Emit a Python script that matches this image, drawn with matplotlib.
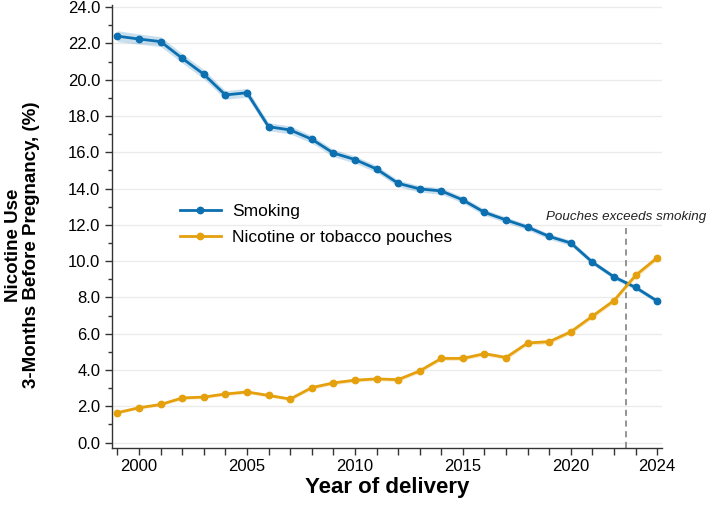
import numpy as np
import matplotlib.pyplot as plt
import matplotlib as mpl

mpl.rcParams['font.family'] = ['Liberation Sans', 'DejaVu Sans']

# dados
years = list(range(1999, 2025))
smoking = [22.40, 22.24, 22.10, 21.18, 20.30, 19.16, 19.28, 17.41, 17.23, 16.72,
           15.96, 15.60, 15.08, 14.29, 13.98, 13.87, 13.37, 12.69, 12.27, 11.87,
           11.36, 11.00, 9.94, 9.13, 8.55, 7.80]
smoking_ci = [0.30, 0.28, 0.27, 0.26, 0.25, 0.24, 0.24, 0.22, 0.22, 0.21,
              0.20, 0.20, 0.19, 0.18, 0.18, 0.18, 0.17, 0.17, 0.16, 0.16,
              0.15, 0.15, 0.14, 0.13, 0.13, 0.12]
pouches = [1.65, 1.92, 2.10, 2.46, 2.51, 2.68, 2.79, 2.60, 2.40, 3.03,
           3.29, 3.44, 3.51, 3.47, 3.95, 4.64, 4.64, 4.90, 4.69, 5.49,
           5.56, 6.11, 6.97, 7.83, 9.22, 10.19]
pouches_ci = [0.08, 0.08, 0.08, 0.09, 0.09, 0.09, 0.09, 0.09, 0.09, 0.10,
              0.10, 0.10, 0.10, 0.10, 0.11, 0.11, 0.11, 0.11, 0.11, 0.12,
              0.12, 0.12, 0.13, 0.13, 0.14, 0.15]
x_labels = {2000: '2000', 2005: '2005', 2010: '2010', 2015: '2015', 2020: '2020', 2024: '2024'}
cross_year = 2022.57

blue = '#0B6FB0'
orange = '#E5A00D'

fig = plt.figure(figsize=(7.09, 5.05), dpi=100)
ax = fig.add_axes([0.158, 0.1135, 0.776, 0.876])

yr = np.array(years)
s = np.array(smoking); sc = np.array(smoking_ci)
p = np.array(pouches); pc = np.array(pouches_ci)

ax.fill_between(yr, s - sc, s + sc, color=blue, alpha=0.22, lw=0, zorder=2)
ax.fill_between(yr, p - pc, p + pc, color=orange, alpha=0.22, lw=0, zorder=2)
ax.plot(yr, s, '-o', color=blue, lw=2.0, ms=4.6, label='Smoking', zorder=3)
ax.plot(yr, p, '-o', color=orange, lw=2.0, ms=4.6, label='Nicotine or tobacco pouches', zorder=3)

# linha de cruzamento
ax.plot([cross_year, cross_year], [-0.3, 11.8], ls=(0, (4, 3)), color='#777777', lw=1.1, zorder=1)
fig.text(706 / 709, 1 - 217 / 505, 'Pouches exceeds smoking', style='italic', fontsize=9.6,
         ha='right', va='center', color='#222222')

ax.set_xlim(1998.75, 2024.23)
ax.set_ylim(-0.28, 24.1)
ax.set_yticks(np.arange(0, 25, 2))
ax.set_yticks(np.arange(0, 25, 1), minor=True)
ax.yaxis.set_major_formatter(mpl.ticker.FormatStrFormatter('%.1f'))
ax.set_xticks(years)
ax.set_xticklabels([x_labels.get(y, '') for y in years])

ax.grid(axis='y', which='major', color='#EBEBEB', lw=1.0, zorder=0)
ax.set_axisbelow(True)
for sp in ['top', 'right']:
    ax.spines[sp].set_visible(False)
for sp in ['left', 'bottom']:
    ax.spines[sp].set_color('#333333')
    ax.spines[sp].set_linewidth(1.0)
ax.tick_params(axis='both', which='major', labelsize=12, length=5, color='#333333', width=1.0)
ax.tick_params(axis='y', which='minor', length=3, color='#333333', width=1.0)

ax.set_xlabel('Year of delivery', fontsize=16, fontweight='bold', labelpad=2)
fig.text(0.032, 0.515, 'Nicotine Use\n3-Months Before Pregnancy, (%)', rotation=90,
         fontsize=13.5, fontweight='bold', ha='center', va='center', multialignment='center',
         linespacing=1.1)

ax.legend(loc='upper left', bbox_to_anchor=(0.095, 0.587), frameon=False, fontsize=12.5,
          handlelength=2.35, handletextpad=0.65, labelspacing=0.62)

fig.savefig('out.png', dpi=100)
